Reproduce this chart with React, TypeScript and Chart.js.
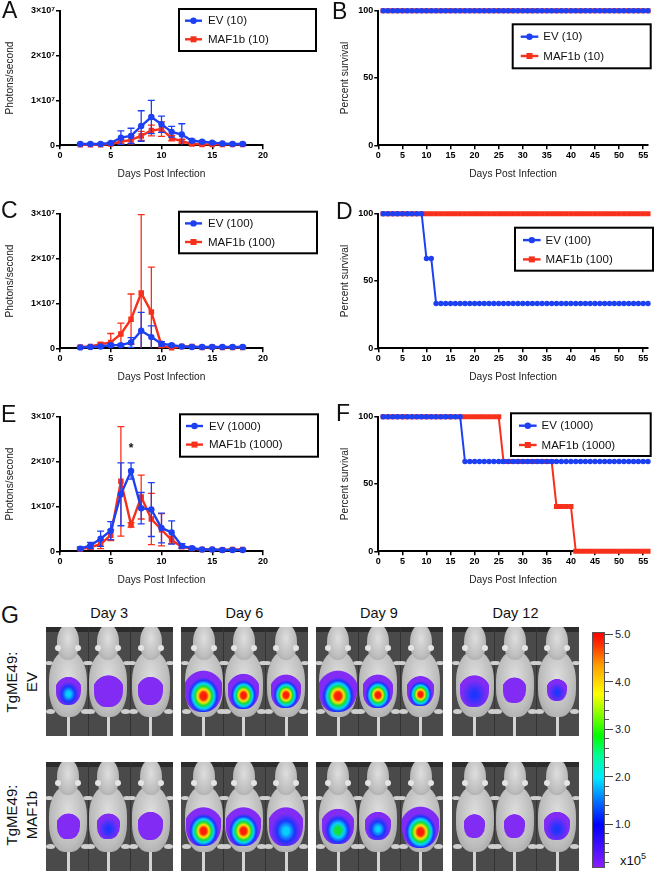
import React, { useEffect, useRef } from "react";
import { Chart, registerables } from "chart.js";
Chart.register(...registerables);

const FONT = "'Liberation Sans', Arial, Helvetica, sans-serif";
const BLUE = "#1d40f2";
const RED = "#f7301c";

// ---------- Bioluminescence data (photons/second, in millions) ----------
const imagingDays = [2, 3, 4, 5, 6, 7, 8, 9, 10, 11, 12, 13, 14, 15, 16, 17, 18];
const photonTicks = [0, 10, 20, 30];
const photonTickLabels = ["0", "1×10⁷", "2×10⁷", "3×10⁷"];
const imagingXTicks = [0, 5, 10, 15, 20];

const ev10Mean = [0.3, 0.3, 0.3, 0.5, 1.7, 2.1, 4.3, 6.3, 4.7, 3.0, 2.4, 1.0, 0.8, 0.6, 0.4, 0.3, 0.3];
const ev10Sd = [0.1, 0.1, 0.1, 0.2, 1.5, 1.7, 3.4, 3.7, 1.8, 1.2, 2.4, 0.3, 0.2, 0.2, 0.1, 0.1, 0.1];
const maf10Mean = [0.1, 0.1, 0.1, 0.3, 0.8, 1.2, 2.1, 3.3, 3.6, 1.6, 0.9, 0.3, 0.2, 0.2, 0.2, 0.2, 0.2];
const maf10Sd = [0.05, 0.05, 0.05, 0.2, 0.5, 0.9, 1.0, 1.2, 1.6, 0.6, 0.4, 0.1, 0.1, 0.1, 0.1, 0.1, 0.1];

const ev100Mean = [0.2, 0.3, 0.4, 0.7, 0.7, 1.3, 3.9, 2.5, 1.0, 0.7, 0.4, 0.3, 0.3, 0.3, 0.3, 0.3, 0.3];
const ev100Sd = [0.1, 0.1, 0.2, 0.3, 0.3, 1.1, 4.1, 2.5, 0.5, 0.2, 0.1, 0.1, 0.1, 0.1, 0.1, 0.1, 0.1];
const maf100Mean = [0.3, 0.4, 0.9, 1.3, 3.2, 6.5, 12.3, 8.1, 0.6, 0.1, 0.4, 0.4, 0.2, 0.3, 0.2, 0.2, 0.2];
const maf100Sd = [0.1, 0.2, 0.3, 2.0, 2.4, 5.6, 17.5, 10.0, 0.4, 0.1, 0.2, 0.2, 0.1, 0.1, 0.1, 0.1, 0.1];

const ev1000Mean = [0.6, 1.3, 2.8, 4.6, 12.7, 17.9, 9.6, 9.3, 5.2, 4.2, 1.2, 0.7, 0.4, 0.4, 0.3, 0.3, 0.3];
const ev1000Sd = [0.3, 0.7, 1.7, 2.0, 7.0, 1.8, 3.5, 6.0, 3.3, 2.6, 0.5, 0.3, 0.1, 0.1, 0.1, 0.1, 0.1];
const maf1000Mean = [0.5, 0.9, 1.6, 3.6, 15.6, 5.9, 12.1, 7.2, 4.8, 2.5, 1.0, 0.6, 0.4, 0.4, 0.3, 0.4, 0.4];
const maf1000Sd = [0.2, 0.4, 1.0, 1.2, 12.2, 0.5, 4.9, 5.7, 3.6, 0.8, 0.3, 0.2, 0.1, 0.1, 0.1, 0.1, 0.1];

const sigDays = [7];
const sigHeights = [23.3];

// ---------- Survival data (percent, days 1..56) ----------
const survivalDays = [
  1, 2, 3, 4, 5, 6, 7, 8, 9, 10, 11, 12, 13, 14, 15, 16, 17, 18, 19, 20, 21, 22, 23, 24, 25, 26, 27, 28,
  29, 30, 31, 32, 33, 34, 35, 36, 37, 38, 39, 40, 41, 42, 43, 44, 45, 46, 47, 48, 49, 50, 51, 52, 53, 54, 55, 56,
];
const survivalXTicks = [0, 5, 10, 15, 20, 25, 30, 35, 40, 45, 50, 55];
const survivalYTicks = [0, 50, 100];

const ev10Surv = [
  100, 100, 100, 100, 100, 100, 100, 100, 100, 100, 100, 100, 100, 100, 100, 100, 100, 100, 100, 100, 100, 100, 100, 100, 100, 100, 100, 100,
  100, 100, 100, 100, 100, 100, 100, 100, 100, 100, 100, 100, 100, 100, 100, 100, 100, 100, 100, 100, 100, 100, 100, 100, 100, 100, 100, 100,
];
const maf10Surv = [
  100, 100, 100, 100, 100, 100, 100, 100, 100, 100, 100, 100, 100, 100, 100, 100, 100, 100, 100, 100, 100, 100, 100, 100, 100, 100, 100, 100,
  100, 100, 100, 100, 100, 100, 100, 100, 100, 100, 100, 100, 100, 100, 100, 100, 100, 100, 100, 100, 100, 100, 100, 100, 100, 100, 100, 100,
];
const ev100Surv = [
  100, 100, 100, 100, 100, 100, 100, 100, 100, 66.7, 66.7, 33.3, 33.3, 33.3, 33.3, 33.3, 33.3, 33.3, 33.3, 33.3, 33.3, 33.3, 33.3, 33.3, 33.3, 33.3, 33.3, 33.3,
  33.3, 33.3, 33.3, 33.3, 33.3, 33.3, 33.3, 33.3, 33.3, 33.3, 33.3, 33.3, 33.3, 33.3, 33.3, 33.3, 33.3, 33.3, 33.3, 33.3, 33.3, 33.3, 33.3, 33.3, 33.3, 33.3, 33.3, 33.3,
];
const maf100Surv = [
  100, 100, 100, 100, 100, 100, 100, 100, 100, 100, 100, 100, 100, 100, 100, 100, 100, 100, 100, 100, 100, 100, 100, 100, 100, 100, 100, 100,
  100, 100, 100, 100, 100, 100, 100, 100, 100, 100, 100, 100, 100, 100, 100, 100, 100, 100, 100, 100, 100, 100, 100, 100, 100, 100, 100, 100,
];
const ev1000Surv = [
  100, 100, 100, 100, 100, 100, 100, 100, 100, 100, 100, 100, 100, 100, 100, 100, 100, 66.7, 66.7, 66.7, 66.7, 66.7, 66.7, 66.7, 66.7, 66.7, 66.7, 66.7,
  66.7, 66.7, 66.7, 66.7, 66.7, 66.7, 66.7, 66.7, 66.7, 66.7, 66.7, 66.7, 66.7, 66.7, 66.7, 66.7, 66.7, 66.7, 66.7, 66.7, 66.7, 66.7, 66.7, 66.7, 66.7, 66.7, 66.7, 66.7,
];
const maf1000Surv = [
  100, 100, 100, 100, 100, 100, 100, 100, 100, 100, 100, 100, 100, 100, 100, 100, 100, 100, 100, 100, 100, 100, 100, 100, 100, 66.7, 66.7, 66.7,
  66.7, 66.7, 66.7, 66.7, 66.7, 66.7, 66.7, 66.7, 33.3, 33.3, 33.3, 33.3, 0, 0, 0, 0, 0, 0, 0, 0, 0, 0, 0, 0, 0, 0, 0, 0,
];

// ---------- Imaging panel (G) ----------
const imageDayLabels = ["Day 3", "Day 6", "Day 9", "Day 12"];
const groupLabels = [["TgME49:", "EV"], ["TgME49:", "MAF1b"]];
const colorbarLabels = ["5.0", "4.0", "3.0", "2.0", "1.0"];
const colorbarValues = [5, 4, 3, 2, 1];
// relative signal intensity (0..1) of each of the three mice, per day
const evSignal = [[0.55, 0.2, 0.2], [1.0, 0.95, 0.92], [1.0, 0.95, 0.9], [0.42, 0.15, 0.4]];
const evSpread = [[0.85, 0.95, 0.85], [1.25, 1.05, 1.0], [1.25, 1.0, 0.9], [0.95, 0.75, 0.65]];
const mafSignal = [[0.15, 0.3, 0.15], [0.95, 1.0, 0.5], [0.75, 0.5, 0.95], [0.15, 0.15, 0.4]];
const mafSpread = [[0.75, 0.75, 0.85], [1.15, 1.15, 1.15], [1.05, 0.85, 1.25], [0.7, 0.7, 0.85]];

// ---------- plugins ----------
const errorBarPlugin = {
  id: "errorBars",
  afterDatasetDraw(chart: any, args: any) {
    const ds = chart.data.datasets[args.index];
    const err: number[] | undefined = ds.errors;
    if (!err) return;
    const { ctx, chartArea, scales } = chart;
    const x = scales.x;
    const y = scales.y;
    ctx.save();
    ctx.beginPath();
    ctx.rect(chartArea.left - 6, chartArea.top - 1, chartArea.width + 12, chartArea.height + 1);
    ctx.clip();
    ctx.strokeStyle = ds.borderColor;
    ctx.lineWidth = 1.3;
    const cap = 3.5;
    ds.data.forEach((pt: any, i: number) => {
      const e = err[i];
      if (!e) return;
      const px = x.getPixelForValue(pt.x);
      const hi = pt.y + e;
      const lo = pt.y - e;
      const pTop = y.getPixelForValue(hi);
      const pBot = y.getPixelForValue(Math.max(lo, 0));
      ctx.beginPath();
      ctx.moveTo(px, pTop);
      ctx.lineTo(px, pBot);
      ctx.moveTo(px - cap, pTop);
      ctx.lineTo(px + cap, pTop);
      if (lo > 0) {
        ctx.moveTo(px - cap, pBot);
        ctx.lineTo(px + cap, pBot);
      }
      ctx.stroke();
    });
    ctx.restore();
  },
};

const boxLegendPlugin = {
  id: "boxLegend",
  afterDraw(chart: any, _args: any, opts: any) {
    if (!opts || !opts.box) return;
    const { ctx } = chart;
    const b = opts.box;
    ctx.save();
    ctx.fillStyle = "#fff";
    ctx.fillRect(b.x, b.y, b.w, b.h);
    ctx.strokeStyle = "#000";
    ctx.lineWidth = 2;
    ctx.strokeRect(b.x, b.y, b.w, b.h);
    chart.data.datasets.forEach((ds: any, i: number) => {
      const cy = b.y + opts.rows[i];
      const x0 = b.x + opts.sample[0];
      const x1 = b.x + opts.sample[1];
      ctx.strokeStyle = ds.borderColor;
      ctx.lineWidth = 2.4;
      ctx.beginPath();
      ctx.moveTo(x0, cy);
      ctx.lineTo(x1, cy);
      ctx.stroke();
      ctx.fillStyle = ds.borderColor;
      const mx = (x0 + x1) / 2;
      if (ds.pointStyle === "rect") {
        ctx.fillRect(mx - 3, cy - 3, 6, 6);
      } else {
        ctx.beginPath();
        ctx.arc(mx, cy, 3.2, 0, Math.PI * 2);
        ctx.fill();
      }
      ctx.fillStyle = "#111";
      ctx.font = `11.5px ${FONT}`;
      ctx.textBaseline = "middle";
      ctx.textAlign = "left";
      ctx.fillText(ds.label, b.x + opts.textX, cy + 0.5);
    });
    ctx.restore();
  },
};

const sigPlugin = {
  id: "sigMarks",
  afterDatasetsDraw(chart: any, _args: any, opts: any) {
    if (!opts || !opts.xs) return;
    const { ctx, scales } = chart;
    ctx.save();
    ctx.fillStyle = "#111";
    ctx.font = `bold 12px ${FONT}`;
    ctx.textAlign = "center";
    ctx.textBaseline = "middle";
    opts.xs.forEach((xv: number, i: number) => {
      ctx.fillText("*", scales.x.getPixelForValue(xv), scales.y.getPixelForValue(opts.ys[i]) + 2);
    });
    ctx.restore();
  },
};

Chart.register(errorBarPlugin, boxLegendPlugin, sigPlugin);

type SeriesSpec = {
  label: string;
  color: string;
  style: "circle" | "rect";
  xs: number[];
  ys: number[];
  err?: number[];
};

type PanelSpec = {
  series: SeriesSpec[];
  xMax: number;
  xTicks: number[];
  yMax: number;
  yTicks: number[];
  yTickLabels?: string[];
  yTitle: string;
  yAxisWidth: number;
  yTitlePad: number;
  rightPad: number;
  legend: any;
  survival: boolean;
  sig?: { xs: number[]; ys: number[] };
};

const CANVAS_W = 330;
const CANVAS_H = 180;

function buildConfig(p: PanelSpec): any {
  const tickFont = { family: FONT, size: 9, weight: "bold" as const };
  const titleFont = { family: FONT, size: 10.2 };
  const axisCommon = {
    grid: { display: true, drawOnChartArea: false, drawTicks: true, tickLength: 4, color: "#000", lineWidth: 1.5 },
    border: { display: true, color: "#000", width: 2 },
  };
  return {
    type: "line",
    data: {
      datasets: p.series.map((s) => ({
        label: s.label,
        data: s.xs.map((x, i) => ({ x, y: s.ys[i] })),
        errors: s.err,
        borderColor: s.color,
        backgroundColor: s.color,
        pointBackgroundColor: s.color,
        pointBorderColor: s.color,
        pointStyle: s.style,
        pointRadius: s.style === "rect" ? (p.survival ? 3.6 : 3.9) : p.survival ? 2.7 : 3.2,
        pointBorderWidth: 0,
        borderWidth: p.survival ? 2 : 2.4,
        tension: 0,
        clip: 6,
      })),
    },
    options: {
      responsive: false,
      animation: false,
      devicePixelRatio: window.devicePixelRatio || 1,
      layout: { padding: { left: 0, right: p.rightPad, top: 10.7, bottom: 0 } },
      plugins: {
        legend: { display: false },
        tooltip: { enabled: false },
        boxLegend: p.legend,
        sigMarks: p.sig || {},
      },
      scales: {
        x: {
          type: "linear",
          min: 0,
          max: p.xMax,
          afterBuildTicks: (s: any) => {
            s.ticks = p.xTicks.map((v) => ({ value: v }));
          },
          afterFit: (s: any) => {
            s.height = CANVAS_H - 145.3;
          },
          ticks: { font: tickFont, color: "#000", padding: 1, maxRotation: 0, autoSkip: false },
          title: {
            display: true,
            text: "Days Post Infection",
            font: titleFont,
            color: "#222",
            padding: { top: 0, bottom: 0 },
          },
          ...axisCommon,
        },
        y: {
          type: "linear",
          min: 0,
          max: p.yMax,
          afterBuildTicks: (s: any) => {
            s.ticks = p.yTicks.map((v) => ({ value: v }));
          },
          afterFit: (s: any) => {
            s.width = p.yAxisWidth;
          },
          ticks: {
            font: tickFont,
            color: "#000",
            padding: 1,
            autoSkip: false,
            callback: (v: number) => {
              if (!p.yTickLabels) return String(v);
              const idx = p.yTicks.indexOf(v);
              return idx >= 0 ? p.yTickLabels[idx] : "";
            },
          },
          title: {
            display: true,
            text: p.yTitle,
            font: titleFont,
            color: "#222",
            padding: { top: p.yTitlePad, bottom: 0 },
          },
          ...axisCommon,
        },
      },
    },
  };
}

function ChartPanel({ spec, left, top }: { spec: PanelSpec; left: number; top: number }) {
  const ref = useRef<HTMLCanvasElement | null>(null);
  useEffect(() => {
    if (!ref.current) return;
    const chart = new Chart(ref.current, buildConfig(spec));
    return () => chart.destroy();
  }, [spec]);
  return (
    <div style={{ position: "absolute", left, top, width: CANVAS_W, height: CANVAS_H }}>
      <canvas ref={ref} width={CANVAS_W} height={CANVAS_H} style={{ width: CANVAS_W, height: CANVAS_H, display: "block" }} />
    </div>
  );
}

const imagingLegend = (x: number, y: number, w: number, h: number) => ({
  box: { x, y, w, h },
  rows: [11.7, 30.3],
  sample: [6, 23],
  textX: 29,
});
const survivalLegend = (x: number, y: number, w: number, h: number) => ({
  box: { x, y, w, h },
  rows: [12.4, 31.7],
  sample: [8, 25.6],
  textX: 30.6,
});

function imagingSpec(
  evLabel: string,
  mafLabel: string,
  evM: number[],
  evS: number[],
  mfM: number[],
  mfS: number[],
  legend: any,
  sig?: { xs: number[]; ys: number[] }
): PanelSpec {
  return {
    series: [
      { label: evLabel, color: BLUE, style: "circle", xs: imagingDays, ys: evM, err: evS },
      { label: mafLabel, color: RED, style: "rect", xs: imagingDays, ys: mfM, err: mfS },
    ],
    xMax: 20,
    xTicks: imagingXTicks,
    yMax: 30,
    yTicks: photonTicks,
    yTickLabels: photonTickLabels,
    yTitle: "Photons/second",
    yAxisWidth: 60,
    yTitlePad: 4,
    rightPad: CANVAS_W - 263,
    legend,
    survival: false,
    sig,
  };
}

function survivalSpec(evLabel: string, mafLabel: string, ev: number[], mf: number[], legend: any): PanelSpec {
  return {
    series: [
      { label: evLabel, color: BLUE, style: "circle", xs: survivalDays, ys: ev },
      { label: mafLabel, color: RED, style: "rect", xs: survivalDays, ys: mf },
    ],
    xMax: 56,
    xTicks: survivalXTicks,
    yMax: 100,
    yTicks: survivalYTicks,
    yTitle: "Percent survival",
    yAxisWidth: 48.3,
    yTitlePad: 9,
    rightPad: CANVAS_W - 318,
    legend,
    survival: true,
  };
}

const specA = imagingSpec("EV (10)", "MAF1b (10)", ev10Mean, ev10Sd, maf10Mean, maf10Sd, imagingLegend(179, 9, 137, 42));
const specC = imagingSpec("EV (100)", "MAF1b (100)", ev100Mean, ev100Sd, maf100Mean, maf100Sd, imagingLegend(179, 8.7, 138, 41.6));
const specE = imagingSpec(
  "EV (1000)",
  "MAF1b (1000)",
  ev1000Mean,
  ev1000Sd,
  maf1000Mean,
  maf1000Sd,
  imagingLegend(180, 8.3, 138, 42.4),
  { xs: sigDays, ys: sigHeights }
);
const specB = survivalSpec("EV (10)", "MAF1b (10)", ev10Surv, maf10Surv, survivalLegend(182.7, 24.3, 138, 44));
const specD = survivalSpec("EV (100)", "MAF1b (100)", ev100Surv, maf100Surv, survivalLegend(185, 24.7, 138, 43));
const specF = survivalSpec("EV (1000)", "MAF1b (1000)", ev1000Surv, maf1000Surv, survivalLegend(181, 7.3, 139.7, 42.7));

// ---------- panel G helpers ----------
function blobBackground(s: number): string {
  const palette: [number, string][] = [
    [0.9, "#ff1a00"],
    [0.78, "#ffe400"],
    [0.62, "#10e030"],
    [0.45, "#00d0ff"],
    [0.25, "#1830ff"],
    [0, "#7f26f5"],
  ];
  const cols = palette.filter((c) => c[0] <= s);
  const n = cols.length;
  if (n === 1) {
    return "radial-gradient(ellipse 60% 55% at 50% 66%, #7f26f5 0%, #7f26f5 96%, rgba(127,38,245,0) 100%)";
  }
  const stops = cols.map((c, i) => `${c[1]} ${Math.round(14 + (i / (n - 1)) * 58)}%`);
  return `radial-gradient(ellipse 60% 55% at 50% 66%, ${cols[0][1]} 0%, ${stops.join(", ")}, #7f26f5 96%, rgba(127,38,245,0) 100%)`;
}

function Mouse({ cx, signal, spread }: { cx: number; signal: number; spread: number }) {
  const fur = "radial-gradient(ellipse at 50% 40%, #dedede 0%, #bdbdbd 60%, #9a9a9a 100%)";
  const bw = 30 * spread;
  const bh = 38 * spread;
  return (
    <>
      <div style={{ position: "absolute", left: cx - 1.5, top: 84, width: 3, height: 30, background: "#d4d4d4" }} />
      <div style={{ position: "absolute", left: cx - 22, top: 82, width: 9, height: 5, borderRadius: "50%", background: "#cfcfcf" }} />
      <div style={{ position: "absolute", left: cx + 13, top: 82, width: 9, height: 5, borderRadius: "50%", background: "#cfcfcf" }} />
      <div style={{ position: "absolute", left: cx - 23, top: 34, width: 8, height: 4, borderRadius: "50%", background: "#cfcfcf" }} />
      <div style={{ position: "absolute", left: cx + 15, top: 34, width: 8, height: 4, borderRadius: "50%", background: "#cfcfcf" }} />
      <div
        style={{
          position: "absolute",
          left: cx - 19,
          top: 24,
          width: 38,
          height: 66,
          borderRadius: "45% 45% 42% 42%",
          background: fur,
        }}
      />
      <div
        style={{
          position: "absolute",
          left: cx - 11,
          top: -3,
          width: 22,
          height: 36,
          borderRadius: "50% 50% 45% 45%",
          background: fur,
        }}
      />
      <div style={{ position: "absolute", left: cx - 13, top: 18, width: 6, height: 6, borderRadius: "50%", background: "#e4e4e4" }} />
      <div style={{ position: "absolute", left: cx + 7, top: 18, width: 6, height: 6, borderRadius: "50%", background: "#e4e4e4" }} />
      <div
        style={{
          position: "absolute",
          left: cx - bw / 2,
          top: 62 - bh / 2,
          width: bw,
          height: bh,
          borderRadius: "38% 42% 45% 40%",
          background: blobBackground(signal),
          opacity: 0.97,
        }}
      />
    </>
  );
}

const boxLefts = [45.7, 181, 315.5, 452];
const boxTops = [626.7, 762.3];
const BOX_W = 127;
const BOX_H = 109;
const mouseCenters = [22.6, 62.6, 105];

function ImagingPanel() {
  const rows = [
    { signal: evSignal, spread: evSpread },
    { signal: mafSignal, spread: mafSpread },
  ];
  const barTop = 631.7;
  const barBottom = 868;
  const yOf = (v: number) => 634 + (5 - v) * 47.6;
  const minor: number[] = [];
  for (let k = 1; k <= 24; k++) if (k % 5 !== 0) minor.push(k * 0.2);
  return (
    <>
      {imageDayLabels.map((d, i) => (
        <div
          key={d}
          style={{
            position: "absolute",
            left: boxLefts[i] + BOX_W / 2 - 40,
            top: 604,
            width: 80,
            textAlign: "center",
            fontFamily: FONT,
            fontSize: 14.5,
            lineHeight: "18px",
            color: "#111",
          }}
        >
          {d}
        </div>
      ))}
      {groupLabels.map((g, r) => (
        <div
          key={r}
          style={{
            position: "absolute",
            left: 23 - 60,
            top: (r === 0 ? 681.7 : 815) - 21,
            width: 120,
            height: 42,
            transform: "rotate(-90deg)",
            textAlign: "center",
            fontFamily: FONT,
            fontSize: 15,
            lineHeight: "20px",
            color: "#111",
          }}
        >
          {g[0]}
          <br />
          {g[1]}
        </div>
      ))}
      {rows.map((row, r) =>
        boxLefts.map((bl, c) => (
          <div
            key={`${r}-${c}`}
            style={{
              position: "absolute",
              left: bl,
              top: boxTops[r],
              width: BOX_W,
              height: BOX_H,
              background: "#4a4a4a",
              overflow: "hidden",
            }}
          >
            <div style={{ position: "absolute", left: 0, top: 0, width: BOX_W, height: 5, background: "#2c2c2c" }} />
            <div style={{ position: "absolute", left: 42, top: 0, width: 1, height: BOX_H, background: "#333" }} />
            <div style={{ position: "absolute", left: 84, top: 0, width: 1, height: BOX_H, background: "#333" }} />
            {mouseCenters.map((mc, m) => (
              <Mouse key={m} cx={mc} signal={row.signal[c][m]} spread={row.spread[c][m]} />
            ))}
          </div>
        ))
      )}
      <div
        style={{
          position: "absolute",
          left: 591.7,
          top: barTop,
          width: 13.3,
          height: barBottom - barTop,
          border: "1px solid #555",
          boxSizing: "border-box",
          background:
            "linear-gradient(to top, #8a1cff 0%, #4a10ff 8%, #0000ff 18%, #0070ff 28%, #00e8ff 38%, #00ff90 48%, #00ff00 56%, #90ff00 66%, #ffff00 74%, #ffa000 86%, #ff3000 95%, #ff0000 100%)",
        }}
      />
      {colorbarValues.map((v, i) => (
        <React.Fragment key={v}>
          <div style={{ position: "absolute", left: 605, top: yOf(v) - 0.5, width: 8, height: 1, background: "#444" }} />
          <div
            style={{
              position: "absolute",
              left: 615,
              top: yOf(v) - 7,
              fontFamily: FONT,
              fontSize: 11,
              lineHeight: "14px",
              color: "#222",
            }}
          >
            {colorbarLabels[i]}
          </div>
        </React.Fragment>
      ))}
      {minor.map((v) => (
        <div key={v} style={{ position: "absolute", left: 605, top: yOf(v) - 0.5, width: 4, height: 1, background: "#555" }} />
      ))}
      <div
        style={{
          position: "absolute",
          left: 620,
          top: 853,
          fontFamily: FONT,
          fontSize: 13,
          lineHeight: "16px",
          color: "#111",
        }}
      >
        x10<sup style={{ fontSize: 9, verticalAlign: "6px", lineHeight: 0 }}>5</sup>
      </div>
    </>
  );
}

const panelLetters = [
  { t: "A", x: 2, y: -1 },
  { t: "B", x: 332, y: -0.5 },
  { t: "C", x: 1, y: 199 },
  { t: "D", x: 336, y: 200 },
  { t: "E", x: 1, y: 403 },
  { t: "F", x: 336, y: 402 },
  { t: "G", x: 1, y: 604 },
];

export default function App() {
  return (
    <div
      style={{
        position: "absolute",
        left: 0,
        top: 0,
        width: 660,
        height: 872,
        background: "#fff",
        overflow: "hidden",
      }}
    >
      <ChartPanel spec={specA} left={0} top={0} />
      <ChartPanel spec={specB} left={330} top={0} />
      <ChartPanel spec={specC} left={0} top={203} />
      <ChartPanel spec={specD} left={330} top={203} />
      <ChartPanel spec={specE} left={0} top={406} />
      <ChartPanel spec={specF} left={330} top={406} />
      {panelLetters.map((l) => (
        <div
          key={l.t}
          style={{
            position: "absolute",
            left: l.x,
            top: l.y,
            fontFamily: FONT,
            fontSize: 23,
            lineHeight: "23px",
            color: "#111",
          }}
        >
          {l.t}
        </div>
      ))}
      <ImagingPanel />
    </div>
  );
}
